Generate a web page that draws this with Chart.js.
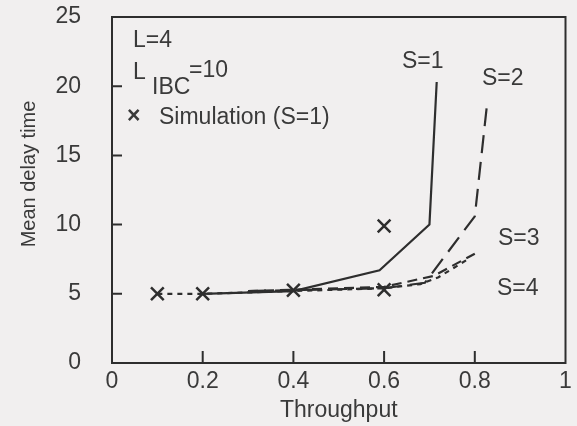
<!DOCTYPE html>
<html>
<head>
<meta charset="utf-8">
<script src="https://cdn.jsdelivr.net/npm/chart.js@4.4.1/dist/chart.umd.min.js"></script>
<style>
  html, body { margin: 0; padding: 0; background: #f1efef; }
  canvas { display: block; }
</style>
</head>
<body>
<canvas id="delayChart" width="577" height="426"></canvas>
<script>
// values
const xTicks = [0, 0.2, 0.4, 0.6, 0.8, 1];
const yTicks = [0, 5, 10, 15, 20, 25];

const s1Throughput = [0.2, 0.4, 0.59, 0.7, 0.716];
const s1Delay      = [5.0, 5.2, 6.7, 10.0, 20.3];

const s2Throughput = [0.3, 0.6, 0.69, 0.8, 0.826];
const s2Delay      = [5.2, 5.4, 5.8, 10.6, 18.4];

const s3Throughput = [0.3, 0.6, 0.71, 0.8];
const s3Delay      = [5.2, 5.5, 6.3, 7.9];

const s4Throughput = [0.1, 0.2, 0.4, 0.6, 0.68, 0.72, 0.79];
const s4Delay      = [5.0, 5.0, 5.2, 5.4, 5.7, 6.2, 7.6];

const simThroughput = [0.1, 0.2, 0.4, 0.6, 0.6];
const simDelay      = [5.0, 5.0, 5.25, 5.3, 9.9];

const ink = '#2e2e2e';
const textInk = '#3a3a3a';
const font = '"Liberation Sans", Arial, sans-serif';

const pts = (xs, ys) => xs.map((x, i) => ({ x: x, y: ys[i] }));

const curve = (data, dash) => ({
    data: data,
    showLine: true,
    borderColor: ink,
    borderWidth: 2.2,
    borderDash: dash,
    pointRadius: 0,
    fill: false
});

const frame = {
    id: 'frame',
    beforeDraw(chart) {
        const ctx = chart.ctx;
        ctx.save();
        ctx.fillStyle = '#f1efef';
        ctx.fillRect(0, 0, chart.width, chart.height);
        ctx.restore();
    },
    afterDraw(chart) {
        const { ctx, chartArea: a, scales: { x, y } } = chart;
        ctx.save();
        ctx.strokeStyle = ink;
        ctx.lineWidth = 2;
        ctx.strokeRect(a.left, a.top, a.right - a.left, a.bottom - a.top);

        // inward tick marks
        ctx.beginPath();
        yTicks.slice(1, -1).forEach(v => {
            const py = y.getPixelForValue(v);
            ctx.moveTo(a.left, py);
            ctx.lineTo(a.left + 10, py);
        });
        xTicks.slice(1, -1).forEach(v => {
            const px = x.getPixelForValue(v);
            ctx.moveTo(px, a.bottom);
            ctx.lineTo(px, a.bottom - 12);
        });
        ctx.stroke();

        ctx.fillStyle = textInk;
        ctx.textBaseline = 'middle';
        ctx.textAlign = 'left';
        ctx.font = '23px ' + font;
        ctx.fillText('L=4', 133, 41);
        ctx.fillText('L', 133, 73);
        ctx.fillText('IBC', 152, 88);
        ctx.fillText('=10', 189, 71);
        ctx.fillText('Simulation (S=1)', 159, 118);
        ctx.font = 'bold 23px ' + font;
        ctx.fillText('\u00d7', 127, 117);

        ctx.font = '23px ' + font;
        ctx.fillText('S=1', 402, 62);
        ctx.fillText('S=2', 482, 79);
        ctx.fillText('S=3', 498, 239);
        ctx.fillText('S=4', 497, 289);

        // axis titles
        ctx.textAlign = 'center';
        ctx.fillText('Throughput', (a.left + a.right) / 2, 411);
        ctx.translate(29, 174);
        ctx.rotate(-Math.PI / 2);
        ctx.font = '20px ' + font;
        ctx.fillText('Mean delay time', 0, 0);
        ctx.restore();
    }
};

const ctx = document.getElementById('delayChart').getContext('2d');

new Chart(ctx, {
    type: 'scatter',
    data: {
        datasets: [
            curve(pts(s4Throughput, s4Delay), [5, 5]),
            curve(pts(s3Throughput, s3Delay), [10, 6]),
            curve(pts(s2Throughput, s2Delay), [18, 9]),
            curve(pts(s1Throughput, s1Delay), []),
            {
                data: pts(simThroughput, simDelay),
                showLine: false,
                pointStyle: 'crossRot',
                pointRadius: 9,
                borderColor: ink,
                borderWidth: 2.5
            }
        ]
    },
    options: {
        responsive: false,
        animation: false,
        devicePixelRatio: 1,
        layout: { padding: { top: 17, right: 3, left: 0, bottom: 0 } },
        plugins: {
            legend: { display: false },
            tooltip: { enabled: false }
        },
        scales: {
            x: {
                type: 'linear',
                min: 0,
                max: 1,
                grid: { display: false, drawTicks: false },
                border: { display: false },
                ticks: {
                    stepSize: 0.2,
                    padding: 5,
                    color: textInk,
                    font: { family: font, size: 23 },
                    callback: v => String(+v.toFixed(1))
                },
                afterFit: s => {
                    s.height = 63;
                    s.paddingLeft = 0;
                    s.paddingRight = 0;
                }
            },
            y: {
                min: 0,
                max: 25,
                grid: { display: false, drawTicks: false },
                border: { display: false },
                ticks: {
                    stepSize: 5,
                    padding: 31,
                    color: textInk,
                    font: { family: font, size: 23 }
                },
                afterFit: s => {
                    s.width = 112;
                    s.paddingTop = 0;
                    s.paddingBottom = 0;
                }
            }
        }
    },
    plugins: [frame]
});
</script>
</body>
</html>
